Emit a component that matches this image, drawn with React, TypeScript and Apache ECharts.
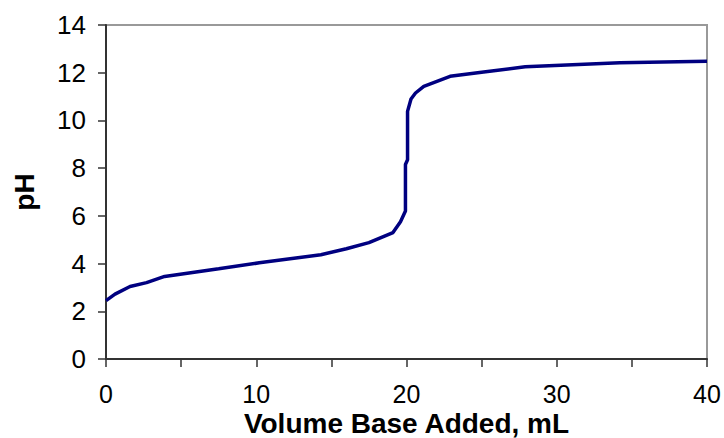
import React, { useEffect, useRef } from "react";
import * as echarts from "echarts";

const volumeML = [0, 0.6, 1.6, 2.7, 3.9, 7.5, 10.2, 14.3, 16.0, 17.5, 19.1, 19.6, 19.93, 19.93, 20.07, 20.07, 20.3, 20.6, 21.15, 22.9, 25.0, 27.9, 34.2, 40];
const pHValues = [2.45, 2.72, 3.04, 3.2, 3.46, 3.78, 4.03, 4.37, 4.62, 4.88, 5.3, 5.75, 6.2, 8.15, 8.35, 10.38, 10.9, 11.15, 11.43, 11.85, 12.02, 12.25, 12.42, 12.48];

const xAxisName = "Volume Base Added, mL";
const yAxisName = "pH";

const FONT = "'Liberation Sans', Arial, Helvetica, sans-serif";

export default function App() {
  const ref = useRef<HTMLDivElement>(null);

  useEffect(() => {
    if (!ref.current) return;
    const chart = echarts.init(ref.current, undefined, { renderer: "svg" });
    const data = volumeML.map((v, i) => [v, pHValues[i]]);
    chart.setOption({
      animation: false,
      backgroundColor: "#ffffff",
      grid: {
        left: 106,
        right: 17,
        top: 25,
        bottom: 79,
        outerBoundsMode: "none",
        containLabel: false,
        show: true,
        borderColor: "#999999",
        borderWidth: 2,
        backgroundColor: "transparent",
      },
      xAxis: {
        type: "value",
        min: 0,
        max: 40,
        interval: 10,
        name: xAxisName,
        nameLocation: "middle",
        nameGap: 50,
        nameMoveOverlap: false,
        nameTextStyle: {
          fontFamily: FONT,
          fontSize: 28,
          fontWeight: "bold",
          color: "#000",
          lineHeight: 28,
        },
        axisLine: { show: true, lineStyle: { color: "#333", width: 2 } },
        axisTick: { show: true, length: 8, lineStyle: { color: "#333", width: 1.5 } },
        minorTick: { show: true, splitNumber: 2, length: 8, lineStyle: { color: "#333", width: 1.5 } },
        splitLine: { show: false },
        axisLabel: {
          margin: 25,
          fontFamily: FONT,
          fontSize: 25,
          lineHeight: 20,
          color: "#000",
        },
      },
      yAxis: {
        type: "value",
        min: 0,
        max: 14,
        interval: 2,
        name: yAxisName,
        nameLocation: "middle",
        nameGap: 68,
        nameMoveOverlap: false,
        nameRotate: 90,
        nameTextStyle: {
          fontFamily: FONT,
          fontSize: 28,
          fontWeight: "bold",
          color: "#000",
        },
        axisLine: { show: true, lineStyle: { color: "#333", width: 2 } },
        axisTick: { show: true, length: 8, lineStyle: { color: "#333", width: 1.5 } },
        splitLine: { show: false },
        axisLabel: {
          margin: 20,
          fontFamily: FONT,
          fontSize: 26,
          color: "#000",
        },
      },
      series: [
        {
          type: "line",
          data,
          showSymbol: false,
          symbol: "none",
          smooth: false,
          lineStyle: { color: "#000080", width: 3.5 },
          itemStyle: { color: "#000080" },
        },
      ],
    });
    return () => chart.dispose();
  }, []);

  return (
    <div
      ref={ref}
      style={{ position: "fixed", left: 0, top: 0, width: 724, height: 438, background: "#fff" }}
    />
  );
}
